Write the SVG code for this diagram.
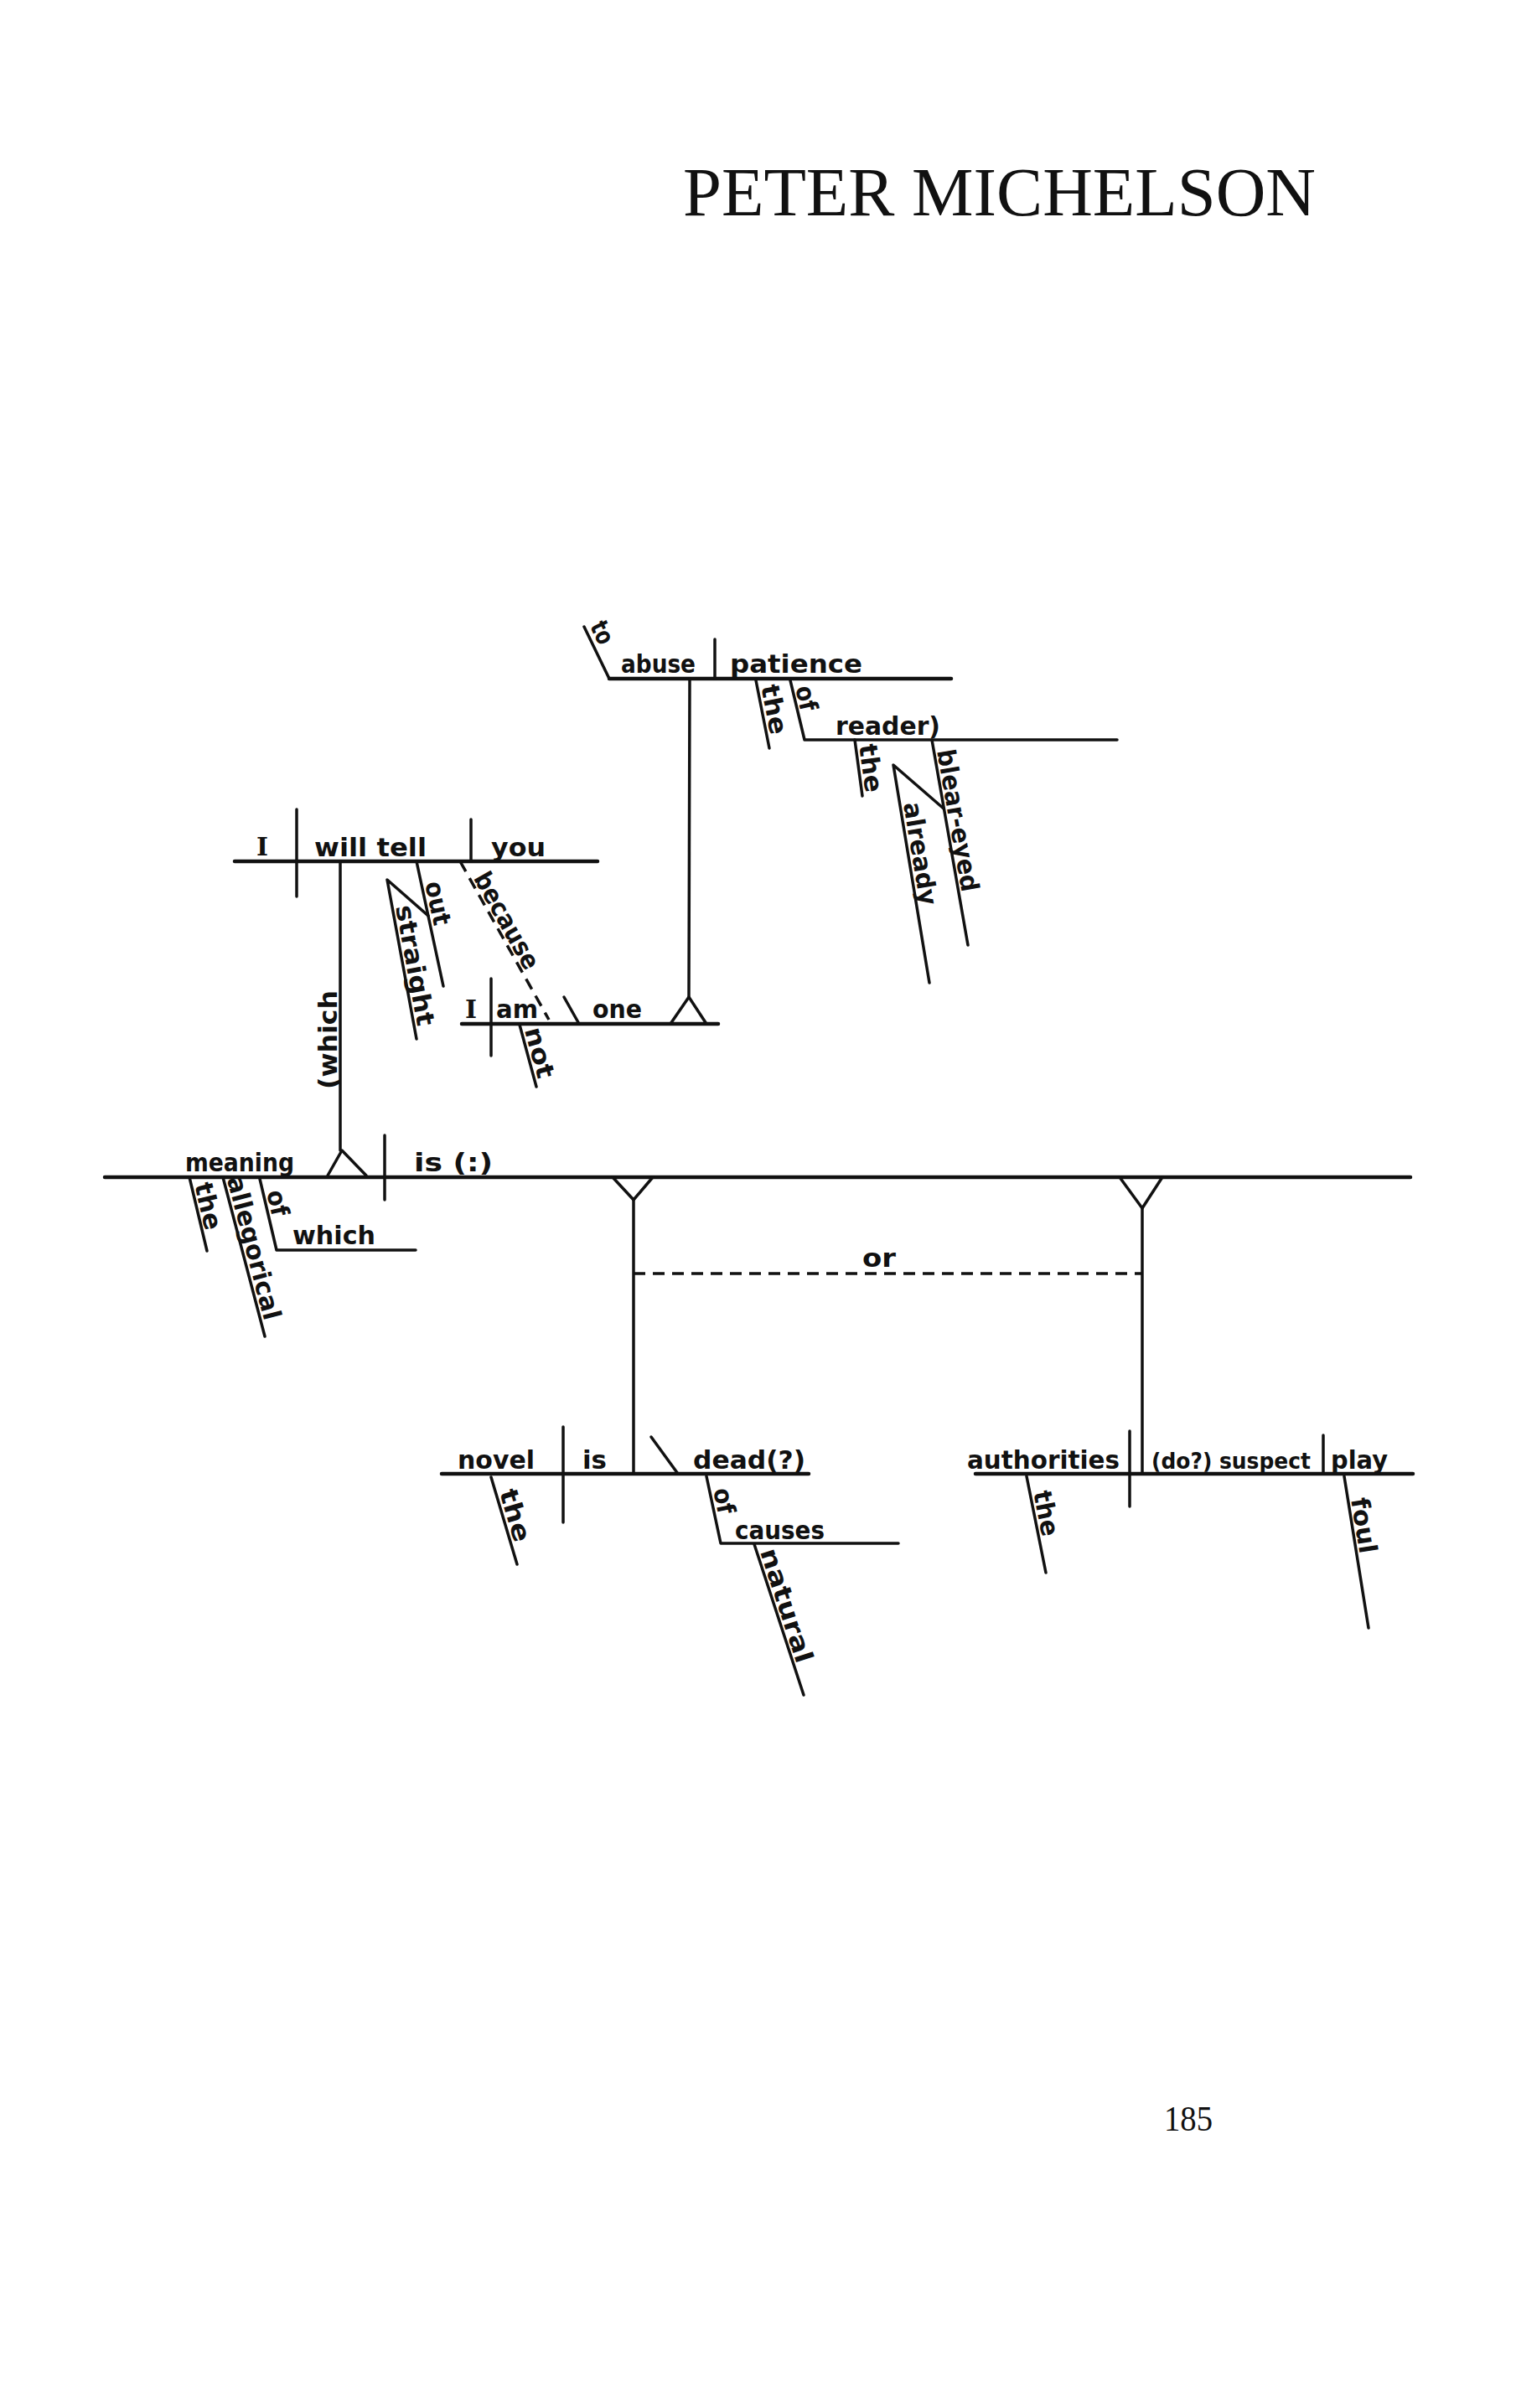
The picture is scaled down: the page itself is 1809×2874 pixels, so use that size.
<svg xmlns="http://www.w3.org/2000/svg" width="1809" height="2874" viewBox="0 0 1809 2874">
<style>
.ln{stroke:#111;stroke-width:3.5;fill:none;stroke-linecap:round;stroke-linejoin:round}
.bl{stroke-width:4.5}
.dash{stroke-dasharray:14 9;stroke-linecap:butt}
.w{font-family:"DejaVu Sans","Noto Sans",sans-serif;font-size:30px;font-weight:bold;fill:#111}
.cap{font-family:"DejaVu Serif","Liberation Serif",serif;font-size:30px;font-weight:bold;fill:#111}
.hd{font-family:"Liberation Serif","Times New Roman",serif;fill:#111}
</style>
<rect width="1809" height="2874" fill="#fff"/>
<g id="title"><text class="hd" x="815" y="257" font-size="82" textLength="755" lengthAdjust="spacingAndGlyphs">PETER MICHELSON</text></g>
<g id="page-number"><text class="hd" x="1389" y="2543" font-size="42" textLength="58" lengthAdjust="spacingAndGlyphs">185</text></g>

<g id="clause-infinitive">
<path class="ln" d="M697,748 L727,810"/>
<path class="ln bl" d="M727,810 H1135"/>
<path class="ln" d="M853,763 V810"/>
<text class="w" transform="translate(700,749) rotate(64)" y="-4" textLength="27" lengthAdjust="spacingAndGlyphs">to</text>
<text class="w" x="741" y="803" textLength="89" lengthAdjust="spacingAndGlyphs">abuse</text>
<text class="w" x="871" y="803" textLength="158" lengthAdjust="spacingAndGlyphs">patience</text>
<path class="ln" d="M902,812 L918,893"/>
<text class="w" transform="translate(904,820) rotate(78.8)" y="-4" textLength="60" lengthAdjust="spacingAndGlyphs">the</text>
<path class="ln" d="M943,812 L960,883 H1333"/>
<text class="w" transform="translate(945,822) rotate(76.7)" y="-4" textLength="30" lengthAdjust="spacingAndGlyphs">of</text>
<text class="w" x="997" y="877" textLength="125" lengthAdjust="spacingAndGlyphs">reader)</text>
<path class="ln" d="M1020,883 L1029,950"/>
<text class="w" transform="translate(1021,890) rotate(82)" y="-4" textLength="58" lengthAdjust="spacingAndGlyphs">the</text>
<path class="ln" d="M1112,883 L1155,1128"/>
<text class="w" transform="translate(1114,897) rotate(80)" y="-4" textLength="172" lengthAdjust="spacingAndGlyphs">blear-eyed</text>
<path class="ln" d="M1126,965 L1066,913 L1109,1173"/>
<text class="w" transform="translate(1074,960) rotate(80.6)" y="-4" textLength="124" lengthAdjust="spacingAndGlyphs">already</text>
</g>

<g id="clause-which">
<path class="ln bl" d="M280,1028 H713"/>
<path class="ln" d="M354,966 V1070"/>
<path class="ln" d="M562,978 V1028"/>
<text class="cap" x="306" y="1021">I</text>
<text class="w" x="375" y="1022" textLength="134" lengthAdjust="spacingAndGlyphs">will tell</text>
<text class="w" x="586" y="1022" textLength="65" lengthAdjust="spacingAndGlyphs">you</text>
<path class="ln" d="M497,1028 L529,1177"/>
<text class="w" transform="translate(503,1055) rotate(77.9)" y="-4" textLength="53" lengthAdjust="spacingAndGlyphs">out</text>
<path class="ln" d="M511,1093 L462,1050 L497,1240"/>
<text class="w" transform="translate(468,1083) rotate(79.6)" y="-4" textLength="146" lengthAdjust="spacingAndGlyphs">straight</text>
</g>

<g id="clause-because">
<path class="ln bl" d="M551,1222 H857"/>
<path class="ln" d="M586,1168 V1260"/>
<text class="cap" x="555" y="1215">I</text>
<text class="w" x="592" y="1215" textLength="50" lengthAdjust="spacingAndGlyphs">am</text>
<path class="ln" d="M620,1223 L640,1297"/>
<text class="w" transform="translate(622,1230) rotate(74.9)" y="-4" textLength="62" lengthAdjust="spacingAndGlyphs">not</text>
<path class="ln" d="M673,1190 L691,1222"/>
<text class="w" x="707" y="1215" textLength="59" lengthAdjust="spacingAndGlyphs">one</text>
</g>

<g id="clause-main">
<path class="ln bl" d="M125,1405 H1683"/>
<path class="ln" d="M459,1355 V1432"/>
<text class="w" x="221" y="1398" textLength="130" lengthAdjust="spacingAndGlyphs">meaning</text>
<text class="w" x="494" y="1398" textLength="94" lengthAdjust="spacingAndGlyphs">is (:)</text>
<path class="ln" d="M226,1405 L247,1493"/>
<text class="w" transform="translate(228,1415) rotate(76.6)" y="-4" textLength="57" lengthAdjust="spacingAndGlyphs">the</text>
<path class="ln" d="M266,1405 L316,1595"/>
<text class="w" transform="translate(267,1408) rotate(75.3)" y="-4" textLength="176" lengthAdjust="spacingAndGlyphs">allegorical</text>
<path class="ln" d="M310,1407 L330,1492 H496"/>
<text class="w" transform="translate(314,1424) rotate(76.8)" y="-4" textLength="31" lengthAdjust="spacingAndGlyphs">of</text>
<text class="w" x="349" y="1485" textLength="99" lengthAdjust="spacingAndGlyphs">which</text>
</g>

<g id="clause-novel">
<path class="ln bl" d="M527,1759 H965"/>
<path class="ln" d="M672,1703 V1817"/>
<text class="w" x="546" y="1753" textLength="92" lengthAdjust="spacingAndGlyphs">novel</text>
<text class="w" x="695" y="1753" textLength="29" lengthAdjust="spacingAndGlyphs">is</text>
<path class="ln" d="M777,1715 L809,1759"/>
<text class="w" x="827" y="1753" textLength="134" lengthAdjust="spacingAndGlyphs">dead(?)</text>
<path class="ln" d="M586,1763 L617,1867"/>
<text class="w" transform="translate(592,1782) rotate(73.4)" y="-4" textLength="64" lengthAdjust="spacingAndGlyphs">the</text>
<path class="ln" d="M843,1762 L860,1842 H1072"/>
<text class="w" transform="translate(847,1779) rotate(78)" y="-4" textLength="31" lengthAdjust="spacingAndGlyphs">of</text>
<text class="w" x="877" y="1837" textLength="107" lengthAdjust="spacingAndGlyphs">causes</text>
<path class="ln" d="M900,1843 L959,2023"/>
<text class="w" transform="translate(903,1853) rotate(71.9)" y="-4" textLength="142" lengthAdjust="spacingAndGlyphs">natural</text>
</g>

<g id="clause-authorities">
<path class="ln bl" d="M1164,1759 H1686"/>
<path class="ln" d="M1348,1708 V1798"/>
<path class="ln" d="M1579,1713 V1759"/>
<text class="w" x="1154" y="1753" textLength="182" lengthAdjust="spacingAndGlyphs">authorities</text>
<text class="w" x="1374" y="1753" style="font-size:26px" textLength="190" lengthAdjust="spacingAndGlyphs">(do?) suspect</text>
<text class="w" x="1588" y="1753" textLength="68" lengthAdjust="spacingAndGlyphs">play</text>
<path class="ln" d="M1225,1762 L1248,1877"/>
<text class="w" transform="translate(1229,1782) rotate(78.7)" y="-4" textLength="55" lengthAdjust="spacingAndGlyphs">the</text>
<path class="ln" d="M1604,1762 L1633,1943"/>
<text class="w" transform="translate(1608,1790) rotate(80.9)" y="-4" textLength="67" lengthAdjust="spacingAndGlyphs">foul</text>
</g>

<g id="connectors">
<path class="ln" d="M406,1028 V1373"/>
<path class="ln" d="M391,1403 L408,1373 L437,1403"/>
<text class="w" transform="translate(402,1300) rotate(-90)" textLength="118" lengthAdjust="spacingAndGlyphs">(which</text>
<path class="ln dash" d="M549,1028 L655,1217"/>
<text class="w" transform="translate(561,1050) rotate(60.7)" y="-4" textLength="128" lengthAdjust="spacingAndGlyphs">because</text>
<path class="ln" d="M800,1222 L822,1190 L843,1222"/>
<path class="ln" d="M822,1190 L823,810"/>
<path class="ln" d="M731,1405 L756,1432 L779,1405"/>
<path class="ln" d="M756,1432 V1759"/>
<path class="ln" d="M1336,1405 L1363,1442 L1387,1405"/>
<path class="ln" d="M1363,1442 V1759"/>
<path class="ln dash" d="M756,1520 H1363"/>
<text class="w" x="1029" y="1512" textLength="40" lengthAdjust="spacingAndGlyphs">or</text>
</g>
</svg>
